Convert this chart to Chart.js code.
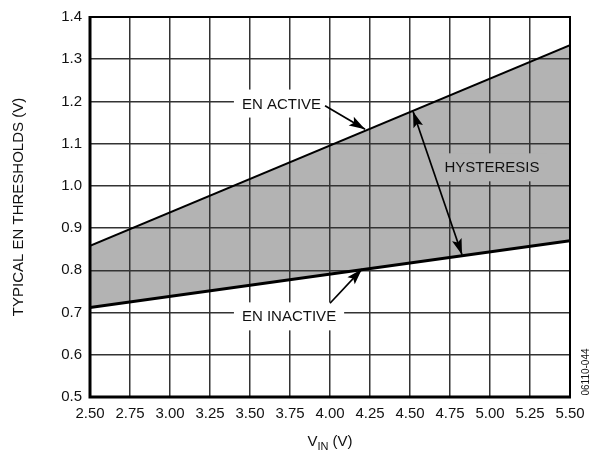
<!DOCTYPE html>
<html>
<head>
<meta charset="utf-8">
<script src="https://cdn.jsdelivr.net/npm/chart.js@4/dist/chart.umd.min.js"></script>
<style>
  body { margin: 0; background: #fff; }
  #wrap { width: 596px; height: 452px; position: relative; }
</style>
</head>
<body>
<div id="wrap"><canvas id="chart"></canvas></div>
<script>
// ================= DATA =================
const vin = [2.5, 5.5];
const enActive = [0.858, 1.333];
const enInactive = [0.712, 0.870];

const xTickLabels = ["2.50", "2.75", "3.00", "3.25", "3.50", "3.75", "4.00", "4.25", "4.50", "4.75", "5.00", "5.25", "5.50"];
const yTickLabels = ["0.5", "0.6", "0.7", "0.8", "0.9", "1.0", "1.1", "1.2", "1.3", "1.4"];

// callouts, placed in data units
const notes = [
  { text: "EN ACTIVE", x: 3.697, y: 1.195, bg: "#fff" },
  { text: "HYSTERESIS", x: 5.0125, y: 1.044, bg: "#b3b3b3" },
  { text: "EN INACTIVE", x: 3.744, y: 0.691, bg: "#fff" },
];
const arrows = [
  { from: [3.969, 1.190], to: [4.219, 1.134], both: false },
  { from: [4.519, 1.176], to: [4.825, 0.837], both: true },
  { from: [4.0, 0.722], to: [4.2, 0.803], both: false },
];

const FONT = "Liberation Sans, Arial, sans-serif";

// ================= PLUGIN =================
function head(ctx, x1, y1, x2, y2) {
  const a = Math.atan2(y2 - y1, x2 - x1);
  const len = 16, hw = 5;
  ctx.beginPath();
  ctx.moveTo(x2, y2);
  ctx.lineTo(x2 - len * Math.cos(a) + hw * Math.sin(a), y2 - len * Math.sin(a) - hw * Math.cos(a));
  ctx.lineTo(x2 - len * 0.8 * Math.cos(a), y2 - len * 0.8 * Math.sin(a));
  ctx.lineTo(x2 - len * Math.cos(a) - hw * Math.sin(a), y2 - len * Math.sin(a) + hw * Math.cos(a));
  ctx.closePath();
  ctx.fill();
}

const decor = {
  id: "decor",
  afterDraw(chart) {
    const { ctx, chartArea: a, scales } = chart;
    const sx = scales.x, sy = scales.y;
    ctx.save();

    // frame (top/right thin, left/bottom thick)
    ctx.strokeStyle = "#000";
    ctx.lineWidth = 2;
    ctx.beginPath();
    ctx.moveTo(a.left, a.top);
    ctx.lineTo(a.right, a.top);
    ctx.lineTo(a.right, a.bottom);
    ctx.stroke();
    ctx.lineWidth = 3;
    ctx.beginPath();
    ctx.moveTo(a.left, a.top - 1);
    ctx.lineTo(a.left, a.bottom);
    ctx.lineTo(a.right + 1, a.bottom);
    ctx.stroke();

    // callout labels
    ctx.font = "15px " + FONT;
    ctx.textAlign = "center";
    ctx.textBaseline = "middle";
    notes.forEach((n) => {
      const px = sx.getPixelForValue(n.x), py = sy.getPixelForValue(n.y);
      const w = ctx.measureText(n.text).width + 16;
      ctx.fillStyle = n.bg;
      ctx.fillRect(px - w / 2, py - 14, w, 28);
      ctx.fillStyle = "#111";
      ctx.fillText(n.text, px, py + 1);
    });

    // arrows
    ctx.strokeStyle = "#000";
    ctx.fillStyle = "#000";
    ctx.lineWidth = 1.7;
    arrows.forEach((r) => {
      const x1 = sx.getPixelForValue(r.from[0]), y1 = sy.getPixelForValue(r.from[1]);
      const x2 = sx.getPixelForValue(r.to[0]), y2 = sy.getPixelForValue(r.to[1]);
      ctx.beginPath();
      ctx.moveTo(x1, y1);
      ctx.lineTo(x2, y2);
      ctx.stroke();
      head(ctx, x1, y1, x2, y2);
      if (r.both) head(ctx, x2, y2, x1, y1);
    });

    // axis titles
    ctx.fillStyle = "#111";
    ctx.font = "15px " + FONT;
    ctx.save();
    ctx.translate(19, (a.top + a.bottom) / 2);
    ctx.rotate(-Math.PI / 2);
    ctx.textAlign = "center";
    ctx.textBaseline = "middle";
    ctx.fillText("TYPICAL EN THRESHOLDS (V)", 0, 0);
    ctx.restore();

    const cx = (a.left + a.right) / 2, base = 446;
    ctx.textBaseline = "alphabetic";
    ctx.textAlign = "left";
    ctx.font = "15px " + FONT;
    const wV = ctx.measureText("V").width;
    const wRest = ctx.measureText(" (V)").width;
    ctx.font = "11px " + FONT;
    const wSub = ctx.measureText("IN").width;
    let x0 = cx - (wV + wSub + wRest) / 2;
    ctx.font = "15px " + FONT;
    ctx.fillText("V", x0, base);
    ctx.font = "11px " + FONT;
    ctx.fillText("IN", x0 + wV, base + 4);
    ctx.font = "15px " + FONT;
    ctx.fillText(" (V)", x0 + wV + wSub, base);

    // figure code
    ctx.save();
    ctx.translate(586, 372);
    ctx.rotate(-Math.PI / 2);
    ctx.font = "10px " + FONT;
    ctx.textAlign = "center";
    ctx.textBaseline = "middle";
    ctx.fillText("06110-044", 0, 0);
    ctx.restore();

    ctx.restore();
  },
};

// ================= CHART =================
window.onload = () => {
  new Chart(document.getElementById("chart"), {
    type: "line",
    data: {
      datasets: [
        {
          data: vin.map((v, i) => ({ x: v, y: enActive[i] })),
          borderColor: "#000",
          borderWidth: 2,
          backgroundColor: "#b3b3b3",
          fill: "+1",
          pointRadius: 0,
          tension: 0,
        },
        {
          data: vin.map((v, i) => ({ x: v, y: enInactive[i] })),
          borderColor: "#000",
          borderWidth: 3,
          fill: false,
          pointRadius: 0,
          tension: 0,
        },
      ],
    },
    options: {
      responsive: true,
      maintainAspectRatio: false,
      animation: false,
      layout: { padding: { top: 15, right: 26, left: 0, bottom: 0 } },
      plugins: {
        legend: { display: false },
        tooltip: { enabled: false },
        filler: { drawTime: "beforeDraw" },
      },
      scales: {
        x: {
          type: "linear",
          min: 2.5,
          max: 5.5,
          afterFit: (s) => { s.height = 55; },
          border: { display: false },
          grid: { color: "#333", lineWidth: 1.5, drawTicks: false },
          ticks: {
            stepSize: 0.25,
            padding: 8,
            color: "#111",
            font: { family: FONT, size: 15 },
            maxRotation: 0,
            autoSkip: false,
            callback: (v, i) => xTickLabels[i],
          },
        },
        y: {
          min: 0.5,
          max: 1.4,
          afterFit: (s) => { s.width = 90; },
          border: { display: false },
          grid: { color: "#333", lineWidth: 1.5, drawTicks: false },
          ticks: {
            stepSize: 0.1,
            padding: 8,
            color: "#111",
            font: { family: FONT, size: 15 },
            autoSkip: false,
            callback: (v, i) => yTickLabels[i],
          },
        },
      },
    },
    plugins: [decor],
  });
};
</script>
</body>
</html>
